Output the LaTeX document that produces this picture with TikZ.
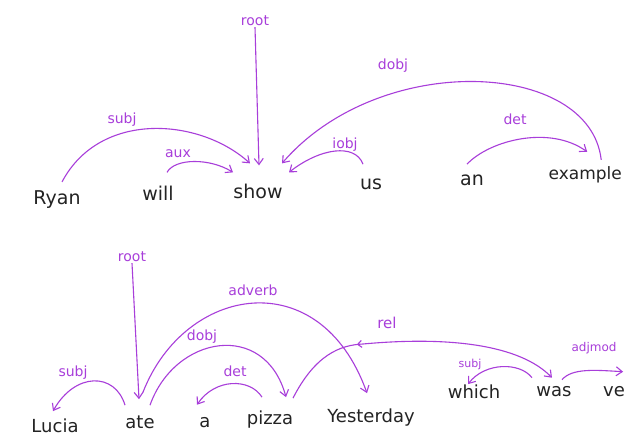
\documentclass[tikz,border=0pt]{standalone}
\usepackage{fontspec}
\setmainfont{DejaVu Sans}
\usetikzlibrary{arrows.meta,decorations.markings}
\definecolor{purp}{RGB}{168,62,218}
\definecolor{ink}{RGB}{35,35,35}
\begin{document}
\begin{tikzpicture}[x=1pt,y=-1pt,
  word/.style={font=\fontsize{19}{19}\selectfont, text=ink, inner sep=1pt, anchor=base},
  wordb/.style={word, font=\fontsize{18}{18}\selectfont},
  lab/.style={font=\fontsize{14}{14}\selectfont, text=purp, inner sep=1pt},
  arc/.style={draw=purp, line width=1.1pt, -{Straight Barb[length=6pt,width=9pt]}},
  midback/.style={postaction={decorate}, decoration={markings,
     mark=at position #1 with {\arrowreversed{Straight Barb[length=4pt,width=7pt]}}}}]
\useasboundingbox (0,0) rectangle (624,438);
\fill[white] (0,0) rectangle (624,438);

% ---- top sentence ----
\node[word] (ryan) at (57,205) {Ryan};
\node[word] (will) at (158,201) {will};
\node[word] (show) at (258,199) {show};
\node[word] (us) at (371,190) {us};
\node[word] (an) at (472,186) {an};
\node[word,anchor=base east,font=\fontsize{17}{17}\selectfont] (example) at (623,180) {example};

\node[lab] (troot) at (255,21) {root};
\node[lab] (tsubj) at (122,120) {subj};
\node[lab] (taux) at (178,154) {aux};
\node[lab] (tiobj) at (345,145) {iobj};
\node[lab] (tdobj) at (393,66) {dobj};
\node[lab] (tdet) at (515,119) {det};

\draw[arc] (troot.south) -- ([shift={(1,-18)}]show.north);
\draw[arc] ([shift={(5,-8)}]ryan.north) .. controls (100,110) and (200,118) .. ([shift={(-8,-20)}]show.north);
\draw[arc] ([shift={(9,-13)}]will.north) .. controls (175,158) and (210,158) .. ([shift={(-25,-11)}]show.north);
\draw[arc] ([shift={(-8,-14)}]us.north) .. controls (355,143) and (320,148) .. ([shift={(31,-11)}]show.north);
\draw[arc] ([shift={(16,-6)}]example.north) .. controls (590,60) and (380,50) .. ([shift={(24,-20)}]show.north);
\draw[arc] ([shift={(-5,-10)}]an.north) .. controls (490,140) and (550,125) .. ([shift={(2,-14)}]example.north);

% ---- bottom sentence ----
\node[wordb] (lucia) at (55,432) {Lucia};
\node[wordb] (ate) at (140,428) {ate};
\node[wordb] (a) at (205,427) {a};
\node[wordb] (pizza) at (270,424) {pizza};
\node[wordb] (yest) at (371,422) {Yesterday};
\node[wordb] (which) at (474,399) {which};
\node[wordb] (was) at (554,396) {was};
\node[wordb,anchor=base west] (ve) at (602,396) {ve};

\node[lab] (broot) at (132,257) {root};
\node[lab] (badv) at (253,290) {adverb};
\node[lab] (bdobj) at (202,337) {dobj};
\node[lab] (bdet) at (235,371) {det};
\node[lab] (bsubj) at (73,373) {subj};
\node[lab,font=\fontsize{15}{15}\selectfont] (brel) at (387,323) {rel};
\node[lab,font=\fontsize{11}{11}\selectfont] (bsubj2) at (470,364) {subj};
\node[lab,font=\fontsize{12}{12}\selectfont] (badj) at (594,348) {adjmod};

\draw[arc] (broot.south) -- ([shift={(-1,-15)}]ate.north);
\draw[arc] ([shift={(-15,-9)}]ate.north) .. controls (115,372) and (75,372) .. ([shift={(-2,-6)}]lucia.north);
\draw[arc] ([shift={(10,-9)}]ate.north) .. controls (175,335) and (265,320) .. ([shift={(16,-12)}]pizza.north);
\draw[arc] ([shift={(3,-22)}]ate.north) .. controls (185,285) and (320,262) .. ([shift={(-4,-14)}]yest.north);
\draw[arc] ([shift={(-8,-12)}]pizza.north) .. controls (250,378) and (215,378) .. ([shift={(-8,-11)}]a.north);
\draw[arc, midback=0.3] ([shift={(23,-11)}]pizza.north) .. controls (315,355) and (340,345) .. (363,344)
   .. controls (450,336) and (520,345) .. ([shift={(-2,-7)}]was.north);
\draw[arc] ([shift={(-22,-7)}]was.north) .. controls (520,362) and (485,362) .. ([shift={(-6,0)}]which.north);
\draw[arc] ([shift={(8,-5)}]was.north) .. controls (572,368) and (595,370) .. ([shift={(9,-13)}]ve.north);
\end{tikzpicture}
\end{document}
